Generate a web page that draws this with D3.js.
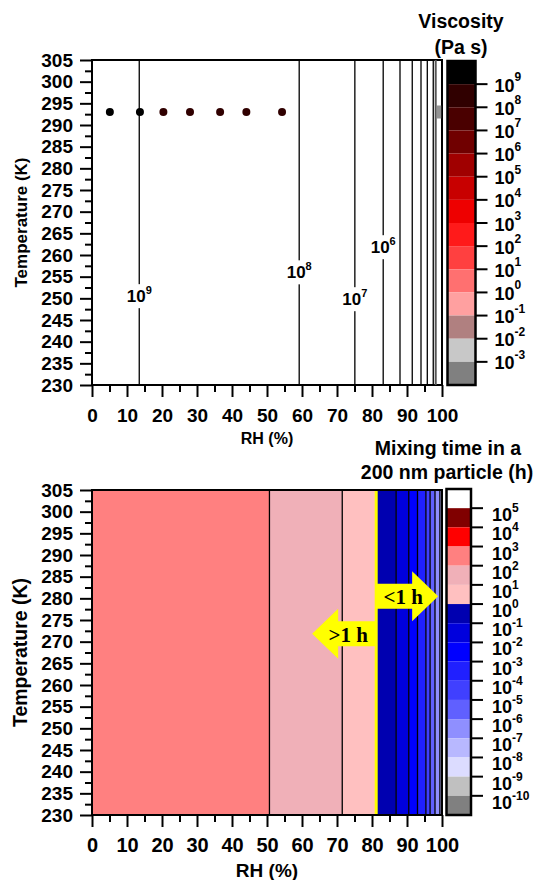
<!DOCTYPE html>
<html><head><meta charset="utf-8">
<script src="https://cdn.jsdelivr.net/npm/d3@7"></script>
<style>
body{margin:0;background:#fff}
svg{display:block}
text{font-family:"Liberation Sans",Arial,sans-serif;font-weight:bold;fill:#000}
</style>
</head><body><svg id="c" width="538" height="880"></svg>
<script>
// ---------- data ----------
const rhTicks = d3.range(0, 101, 10);
const rhMinor = d3.range(5, 100, 10);
const tTicks = d3.range(230, 306, 5);
const tMinor = d3.range(232.5, 305, 5);

// top panel: viscosity contours (vertical iso-lines) at RH (%)
const viscContourRH = [13.5, 59.2, 75.1, 83.2, 88.0, 91.5, 94.0, 95.8, 97.5, 98.2];
const viscContourExp = [9, 8, 7, 6, null, null, null, null, null, null];
const viscLabelT = [250.5, 256.0, 249.8, 261.8];
// measured points (RH, T, viscosity band upper exponent)
const pointRH = [5.1, 13.7, 20.4, 28.0, 36.6, 44.1, 54.3];
const pointT = [293, 293, 293, 293, 293, 293, 293];
const pointExp = [10, 10, 9, 9, 9, 9, 9];
const greyMarkRH = [99.1];
const greyMarkT = [293];
const greyMarkExp = [-3];

// viscosity colour bar: bands from 10^10..10^9 down to 10^-3..10^-4
const viscBandTop = d3.range(10, -4, -1);
const viscColors = ["#000000","#300000","#4a0000","#700000","#a00000","#c80000","#ee0000",
                    "#ff1a1a","#ff4040","#ff7070","#ffa0a0","#b08080","#c8c8c8","#808080"];
const viscTickExp = d3.range(9, -4, -1);

// bottom panel: mixing time regions
const mixBounds = [0, 50.7, 71.5, 81.2, 86.9, 90.5, 93.0, 95.4, 96.6, 98.0, 99.4, 100];
const mixRegionExp = [3, 2, 1, 0, -1, -2, -3, -4, -5, -6, -7];
const oneHourRH = 81.2;
const mixBandTop = d3.range(6, -11, -1);
const mixColors = ["#ffffff","#800000","#ff0000","#ff8080","#f0b0b8","#ffc0c0",
                   "#0000b0","#0000dd","#0000ff","#2020ff","#4040ff","#6060ff",
                   "#8f8fff","#b8b8ff","#dcdcff","#c0c0c0","#808080"];
const mixTickExp = d3.range(5, -11, -1);

// arrows
const arrowLabels = ["<1 h", ">1 h"];
const arrowFromRH = [81.2, 81.2];
const arrowToRH = [98.9, 62.9];
const arrowT = [280.5, 271.8];

// ---------- drawing ----------
const svg = d3.select("#c");
const x = d3.scaleLinear([0, 100], [92, 442]);
const yTop = d3.scaleLinear([230, 305], [385, 60]);
const yBot = d3.scaleLinear([230, 305], [815, 490]);

function axes(y, yFs, xFs, xPad, titleFs, xTitleY, yTitleX, yTitleFs) {
  const g = svg.append("g");
  const [y0, y1] = y.range();
  const ya = g.append("g").attr("transform", `translate(${x(0)},0)`)
    .call(d3.axisLeft(y).tickValues(tTicks).tickSize(12).tickPadding(7).tickFormat(d3.format("d")));
  ya.select(".domain").remove();
  ya.selectAll("line").attr("stroke-width", 2);
  ya.selectAll("text").style("font-size", yFs + "px");
  const ym = g.append("g").attr("transform", `translate(${x(0)},0)`)
    .call(d3.axisLeft(y).tickValues(tMinor).tickSize(7).tickFormat(""));
  ym.select(".domain").remove();
  ym.selectAll("line").attr("stroke-width", 2);
  const xa = g.append("g").attr("transform", `translate(0,${y0})`)
    .call(d3.axisBottom(x).tickValues(rhTicks).tickSize(12).tickPadding(xPad));
  xa.select(".domain").remove();
  xa.selectAll("line").attr("stroke-width", 2);
  xa.selectAll("text").style("font-size", xFs + "px");
  const xm = g.append("g").attr("transform", `translate(0,${y0})`)
    .call(d3.axisBottom(x).tickValues(rhMinor).tickSize(7).tickFormat(""));
  xm.select(".domain").remove();
  xm.selectAll("line").attr("stroke-width", 2);
  g.append("rect").attr("x", x(0)).attr("y", y1).attr("width", x(100) - x(0)).attr("height", y0 - y1)
    .attr("fill", "none").attr("stroke", "#000").attr("stroke-width", 2);
  g.append("text").attr("x", (x(0) + x(100)) / 2).attr("y", xTitleY).attr("text-anchor", "middle")
    .style("font-size", titleFs + "px").text("RH (%)");
  g.append("text").attr("transform", `translate(${yTitleX},${(y0 + y1) / 2}) rotate(-90)`)
    .attr("text-anchor", "middle").style("font-size", yTitleFs + "px").text("Temperature (K)");
}

function colorbar(bandTop, colors, tickExp, x0, w, r0, r1, labDyBase, labDyExp, labX) {
  const cy = d3.scaleLinear([bandTop[0], bandTop[bandTop.length - 1] - 1], [r0, r1]);
  const g = svg.append("g");
  g.selectAll("rect.b").data(bandTop).join("rect").attr("class", "b")
    .attr("x", x0).attr("width", w)
    .attr("y", d => cy(d)).attr("height", d => cy(d - 1) - cy(d))
    .attr("fill", (d, i) => colors[i]);
  g.append("rect").attr("x", x0).attr("y", r0).attr("width", w).attr("height", r1 - r0)
    .attr("fill", "none").attr("stroke", "#000").attr("stroke-width", 2.5);
  g.selectAll("line.t").data(tickExp).join("line").attr("class", "t")
    .attr("x1", x0 + w).attr("x2", x0 + w + 12).attr("y1", d => cy(d)).attr("y2", d => cy(d))
    .attr("stroke", "#000").attr("stroke-width", 2);
  const t = g.selectAll("text.l").data(tickExp).join("text").attr("class", "l")
    .attr("x", x0 + w + labX).attr("y", d => cy(d) + labDyBase).style("font-size", "18px");
  t.append("tspan").text("10");
  t.append("tspan").attr("dy", labDyExp - labDyBase).style("font-size", "12px").text(d => d);
  return cy;
}

// ===== TOP PANEL =====
axes(yTop, 19, 19, 12, 16, 444, 27, 17);
const cTop = svg.append("g");
cTop.selectAll("line.c").data(viscContourRH).join("line").attr("class", "c")
  .attr("x1", d => x(d)).attr("x2", d => x(d)).attr("y1", yTop(305)).attr("y2", yTop(230))
  .attr("stroke", (d, i) => i === viscContourRH.length - 1 ? "#555" : "#000")
  .attr("stroke-width", (d, i) => i === viscContourRH.length - 1 ? 2 : 1.3);
viscContourExp.forEach((e, i) => {
  if (e === null) return;
  const lg = cTop.append("g");
  const tx = lg.append("text").attr("x", x(viscContourRH[i])).attr("y", yTop(viscLabelT[i]) + 6)
    .attr("text-anchor", "middle").style("font-size", "17px");
  tx.append("tspan").text("10");
  tx.append("tspan").attr("dy", -8).style("font-size", "11px").text(e);
  const bb = tx.node().getBBox();
  lg.insert("rect", "text").attr("x", bb.x - 1).attr("y", bb.y).attr("width", bb.width + 2).attr("height", bb.height + 2)
    .attr("fill", "#fff");
});
const vIdx = e => viscBandTop.indexOf(e);
cTop.selectAll("circle").data(pointRH).join("circle")
  .attr("cx", d => x(d)).attr("cy", (d, i) => yTop(pointT[i])).attr("r", 4)
  .attr("fill", (d, i) => viscColors[vIdx(pointExp[i])]);
cTop.selectAll("rect.g").data(greyMarkRH).join("rect").attr("class", "g")
  .attr("x", d => x(d) - 2.5).attr("y", (d, i) => yTop(greyMarkT[i]) - 6.5).attr("width", 5).attr("height", 13)
  .attr("fill", (d, i) => viscColors[vIdx(greyMarkExp[i])]).attr("opacity", 0.85);

colorbar(viscBandTop, viscColors, viscTickExp, 447.5, 28, 61, 385, 7.5, -3, 19);
svg.append("text").attr("x", 461).attr("y", 28).attr("text-anchor", "middle").style("font-size", "19.5px").text("Viscosity");
svg.append("text").attr("x", 461).attr("y", 54).attr("text-anchor", "middle").style("font-size", "19.5px").text("(Pa s)");

// ===== BOTTOM PANEL =====
const gB = svg.append("g");
const mIdx = e => mixBandTop.indexOf(e);
const regions = mixRegionExp.map((e, i) => ({a: mixBounds[i], b: mixBounds[i + 1], e}));
gB.selectAll("rect.r").data(regions).join("rect").attr("class", "r")
  .attr("x", d => x(d.a)).attr("width", d => x(d.b) - x(d.a))
  .attr("y", yBot(305)).attr("height", yBot(230) - yBot(305))
  .attr("fill", d => mixColors[mIdx(d.e)]);
gB.selectAll("line.r").data(mixBounds.slice(1, -1).filter(d => d !== oneHourRH)).join("line").attr("class", "r")
  .attr("x1", d => x(d)).attr("x2", d => x(d)).attr("y1", yBot(305)).attr("y2", yBot(230))
  .attr("stroke", "#000").attr("stroke-width", 1.3);
gB.append("line").attr("x1", x(oneHourRH)).attr("x2", x(oneHourRH)).attr("y1", yBot(305)).attr("y2", yBot(230))
  .attr("stroke", "#ffff00").attr("stroke-width", 3);
axes(yBot, 19, 20, 11, 19, 877, 27, 19.5);

arrowLabels.forEach((lab, i) => {
  const x0 = x(arrowFromRH[i]), x1 = x(arrowToRH[i]), yc = yBot(arrowT[i]);
  const d = Math.sign(x1 - x0), xh = x1 - d * 26;
  const pts = [[x0, yc - 12.5], [xh, yc - 12.5], [xh, yc - 25], [x1, yc], [xh, yc + 25], [xh, yc + 12.5], [x0, yc + 12.5]];
  gB.append("polygon").attr("points", pts.map(p => p.join(",")).join(" ")).attr("fill", "#ffff00");
  gB.append("text").attr("x", (x0 + x1) / 2 - d * 4).attr("y", yc + 8).attr("text-anchor", "middle")
    .style("font-family", "'Liberation Serif','Times New Roman',serif").style("font-size", "21px").text(lab);
});

colorbar(mixBandTop, mixColors, mixTickExp, 446.5, 24.5, 489, 815, 13, 4, 21);
svg.append("text").attr("x", 448).attr("y", 455).attr("text-anchor", "middle").style("font-size", "19.5px").text("Mixing time in a");
svg.append("text").attr("x", 447).attr("y", 479).attr("text-anchor", "middle").style("font-size", "19.5px").text("200 nm particle (h)");
</script>
</body></html>
